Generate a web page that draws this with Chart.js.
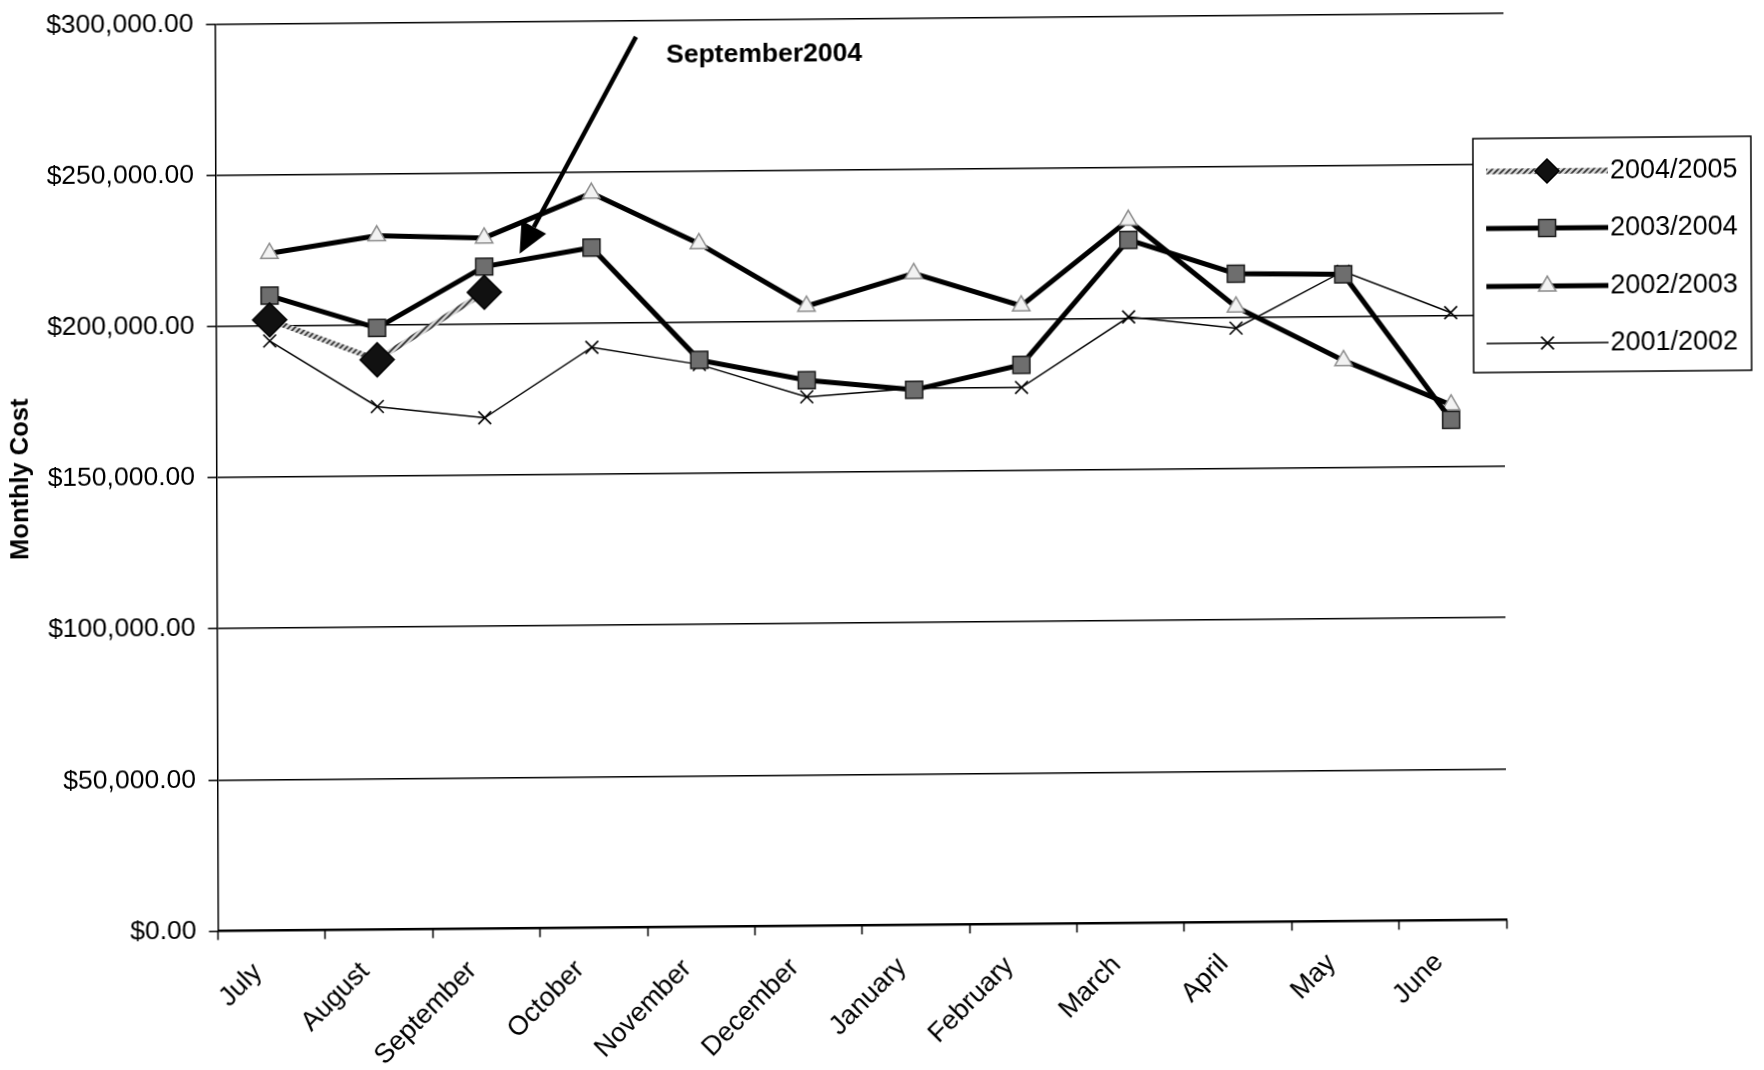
<!DOCTYPE html>
<html>
<head>
<meta charset="utf-8">
<title>Monthly Cost</title>
<script src="https://cdn.jsdelivr.net/npm/chart.js@4.4.1/dist/chart.umd.min.js"></script>
<style>
  html, body { margin: 0; padding: 0; background: #fff; overflow: hidden; }
  #wrap { width: 1764px; height: 1070px; position: relative; }
  /* the scanned page sits slightly askew */
  #c { display: block; transform: matrix(1, -0.0087, 0.0033, 1, 0, 0); transform-origin: 861px 471px; }
</style>
</head>
<body>
<div id="wrap"><canvas id="c" width="1764" height="1070"></canvas></div>
<script>
// ---- data ----
const months = ['July', 'August', 'September', 'October', 'November', 'December',
                'January', 'February', 'March', 'April', 'May', 'June'];
const seriesNames = ['2004/2005', '2003/2004', '2002/2003', '2001/2002'];

const cost2004_05 = [202000, 188500, 210500, null, null, null, null, null, null, null, null, null];
const cost2003_04 = [210000, 199000, 219000, 225000, 187500, 180500, 177000, 185000, 226000, 214500, 214000, 165500];
const cost2002_03 = [224000, 229500, 228500, 243000, 226000, 205000, 215500, 204500, 232500, 203500, 185500, 170500];
const cost2001_02 = [195000, 173000, 169000, 192000, 186000, 175000, 177500, 177500, 200500, 196500, 215000, 201000];

const yTicks = [0, 50000, 100000, 150000, 200000, 250000, 300000];

// callout: arrow from (category position, value) to (category position, value)
const calloutText = 'September2004';
const calloutFrom = { x: 3.42, y: 294600 };
const calloutTo   = { x: 2.33, y: 223200 };
const calloutLabelAt = { x: 3.70, y: 288500 };

// ---- styling ----
const FONT = "'Liberation Sans', Arial, Helvetica, sans-serif";
Chart.defaults.font.family = FONT;
Chart.defaults.color = '#000';

const canvas = document.getElementById('c');
const ctx = canvas.getContext('2d');

// twisted-rope look for the current year's line
function ropePattern() {
  const c = document.createElement('canvas');
  c.width = 6; c.height = 6;
  const g = c.getContext('2d');
  g.fillStyle = '#d6d6d6';
  g.fillRect(0, 0, 6, 6);
  g.strokeStyle = '#333333';
  g.lineWidth = 1.7;
  g.beginPath();
  g.moveTo(0, 6); g.lineTo(6, 0);
  g.moveTo(-3, 3); g.lineTo(3, -3);
  g.moveTo(3, 9); g.lineTo(9, 3);
  g.stroke();
  return ctx.createPattern(c, 'repeat');
}
const rope = ropePattern();

const styles = [
  { line: rope,   width: 5.5, point: 'rectRot',  radius: 17, fill: '#111111', edge: '#000000', edgeW: 1.5 },
  { line: '#000', width: 5,   point: 'rect',     radius: 12, fill: '#6e6e6e', edge: '#1a1a1a', edgeW: 1.5 },
  { line: '#000', width: 5,   point: 'triangle', radius: 10, fill: '#f2f2f2', edge: '#8c8c8c', edgeW: 1.5 },
  { line: '#000', width: 1.5, point: 'crossRot', radius: 9,  fill: '#000000', edge: '#000000', edgeW: 1.6 }
];
const values = [cost2004_05, cost2003_04, cost2002_03, cost2001_02];

const datasets = seriesNames.map((name, i) => ({
  label: name,
  data: values[i],
  borderColor: styles[i].line,
  borderWidth: styles[i].width,
  backgroundColor: styles[i].fill,
  pointStyle: styles[i].point,
  pointRadius: styles[i].radius,
  pointHoverRadius: styles[i].radius,
  pointBackgroundColor: styles[i].fill,
  pointBorderColor: styles[i].edge,
  pointBorderWidth: styles[i].edgeW,
  tension: 0,
  fill: false,
  spanGaps: false
}));

function money(v) {
  return '$' + Number(v).toLocaleString('en-US', { minimumFractionDigits: 2, maximumFractionDigits: 2 });
}

// small marker used in the legend samples
function drawMarker(g, st, x, y) {
  const r = st.radius;
  g.save();
  g.fillStyle = st.fill;
  g.strokeStyle = st.edge;
  g.lineWidth = st.edgeW;
  g.beginPath();
  if (st.point === 'rectRot') {
    g.moveTo(x, y - r); g.lineTo(x + r, y); g.lineTo(x, y + r); g.lineTo(x - r, y); g.closePath();
    g.fill(); g.stroke();
  } else if (st.point === 'rect') {
    const h = r * Math.SQRT1_2;
    g.rect(x - h, y - h, 2 * h, 2 * h);
    g.fill(); g.stroke();
  } else if (st.point === 'triangle') {
    const s = r * Math.sqrt(3) / 2;
    g.moveTo(x, y - r); g.lineTo(x + s, y + r / 2); g.lineTo(x - s, y + r / 2); g.closePath();
    g.fill(); g.stroke();
  } else {
    const h = r * Math.SQRT1_2;
    g.moveTo(x - h, y - h); g.lineTo(x + h, y + h);
    g.moveTo(x + h, y - h); g.lineTo(x - h, y + h);
    g.stroke();
  }
  g.restore();
}

// boxed legend that sits over the right end of the plot
const boxedLegend = {
  id: 'boxedLegend',
  afterDraw(chart) {
    const g = chart.ctx;
    const box = { x: 1474, y: 144, w: 278, h: 234 };
    const rows = [177, 234, 292, 349];
    g.save();
    g.fillStyle = '#fff';
    g.fillRect(box.x, box.y, box.w, box.h);
    g.strokeStyle = '#000';
    g.lineWidth = 1.5;
    g.strokeRect(box.x, box.y, box.w, box.h);
    chart.data.datasets.forEach((ds, i) => {
      const y = rows[i];
      const st = styles[i];
      g.strokeStyle = ds.borderColor;
      g.lineWidth = ds.borderWidth;
      g.beginPath();
      g.moveTo(1487, y); g.lineTo(1609, y);
      g.stroke();
      drawMarker(g, Object.assign({}, st, { radius: Math.min(st.radius, 12) }), 1548, y);
      g.fillStyle = '#000';
      g.font = '27px ' + FONT;
      g.textAlign = 'left';
      g.textBaseline = 'middle';
      g.fillText(ds.label, 1611, y + 1);
    });
    g.restore();
  }
};

// arrow callout placed in data coordinates
const callout = {
  id: 'callout',
  afterDraw(chart) {
    const g = chart.ctx;
    const xs = chart.scales.x, ys = chart.scales.y;
    const px = v => xs.getPixelForValue(v);
    const x0 = px(calloutFrom.x), y0 = ys.getPixelForValue(calloutFrom.y);
    const x1 = px(calloutTo.x),   y1 = ys.getPixelForValue(calloutTo.y);
    const ang = Math.atan2(y1 - y0, x1 - x0);
    const headLen = 30, headHalf = 14;
    const bx = x1 - headLen * Math.cos(ang), by = y1 - headLen * Math.sin(ang);
    g.save();
    g.strokeStyle = '#000';
    g.fillStyle = '#000';
    g.lineWidth = 4.5;
    g.beginPath();
    g.moveTo(x0, y0); g.lineTo(bx, by);
    g.stroke();
    g.beginPath();
    g.moveTo(x1, y1);
    g.lineTo(bx + headHalf * Math.sin(ang), by - headHalf * Math.cos(ang));
    g.lineTo(bx - headHalf * Math.sin(ang), by + headHalf * Math.cos(ang));
    g.closePath();
    g.fill();
    g.font = 'bold 26.5px ' + FONT;
    g.textAlign = 'left';
    g.textBaseline = 'middle';
    g.fillText(calloutText, px(calloutLabelAt.x), ys.getPixelForValue(calloutLabelAt.y));
    g.restore();
  }
};

new Chart(ctx, {
  type: 'line',
  data: { labels: months, datasets: datasets },
  options: {
    responsive: false,
    animation: false,
    events: [],
    layout: { padding: { top: 17.6, right: 259, bottom: 0, left: 0 } },
    plugins: {
      legend: { display: false },
      tooltip: { enabled: false }
    },
    scales: {
      x: {
        type: 'category',
        offset: true,
        grid: {
          offset: true,
          drawOnChartArea: false,
          drawTicks: true,
          tickLength: 9,
          tickColor: '#000',
          tickWidth: 1.5,
          color: '#000'
        },
        border: { display: true, color: '#000', width: 2 },
        ticks: {
          color: '#000',
          font: { size: 27 },
          minRotation: 45,
          maxRotation: 45,
          autoSkip: false,
          padding: 17,
          labelOffset: -14
        },
        afterFit(scale) { scale.height = 1070 - 925.4; }
      },
      y: {
        min: 0,
        max: 300000,
        afterBuildTicks(scale) { scale.ticks = yTicks.map(v => ({ value: v })); },
        ticks: {
          color: '#000',
          font: { size: 26.5 },
          padding: 12.5,
          callback: v => money(v)
        },
        grid: { color: '#000', lineWidth: 1.5, tickLength: 9, tickColor: '#000' },
        border: { display: true, color: '#000', width: 1.5 },
        title: {
          display: true,
          text: 'Monthly Cost',
          color: '#000',
          font: { size: 25.5, weight: 'bold' },
          padding: { top: 6, bottom: 0 }
        },
        afterFit(scale) {
          scale.width = 216.5;
          scale.paddingTop = 0;
          scale.paddingBottom = 0;
        }
      }
    }
  },
  plugins: [callout, boxedLegend]
});
</script>
</body>
</html>
